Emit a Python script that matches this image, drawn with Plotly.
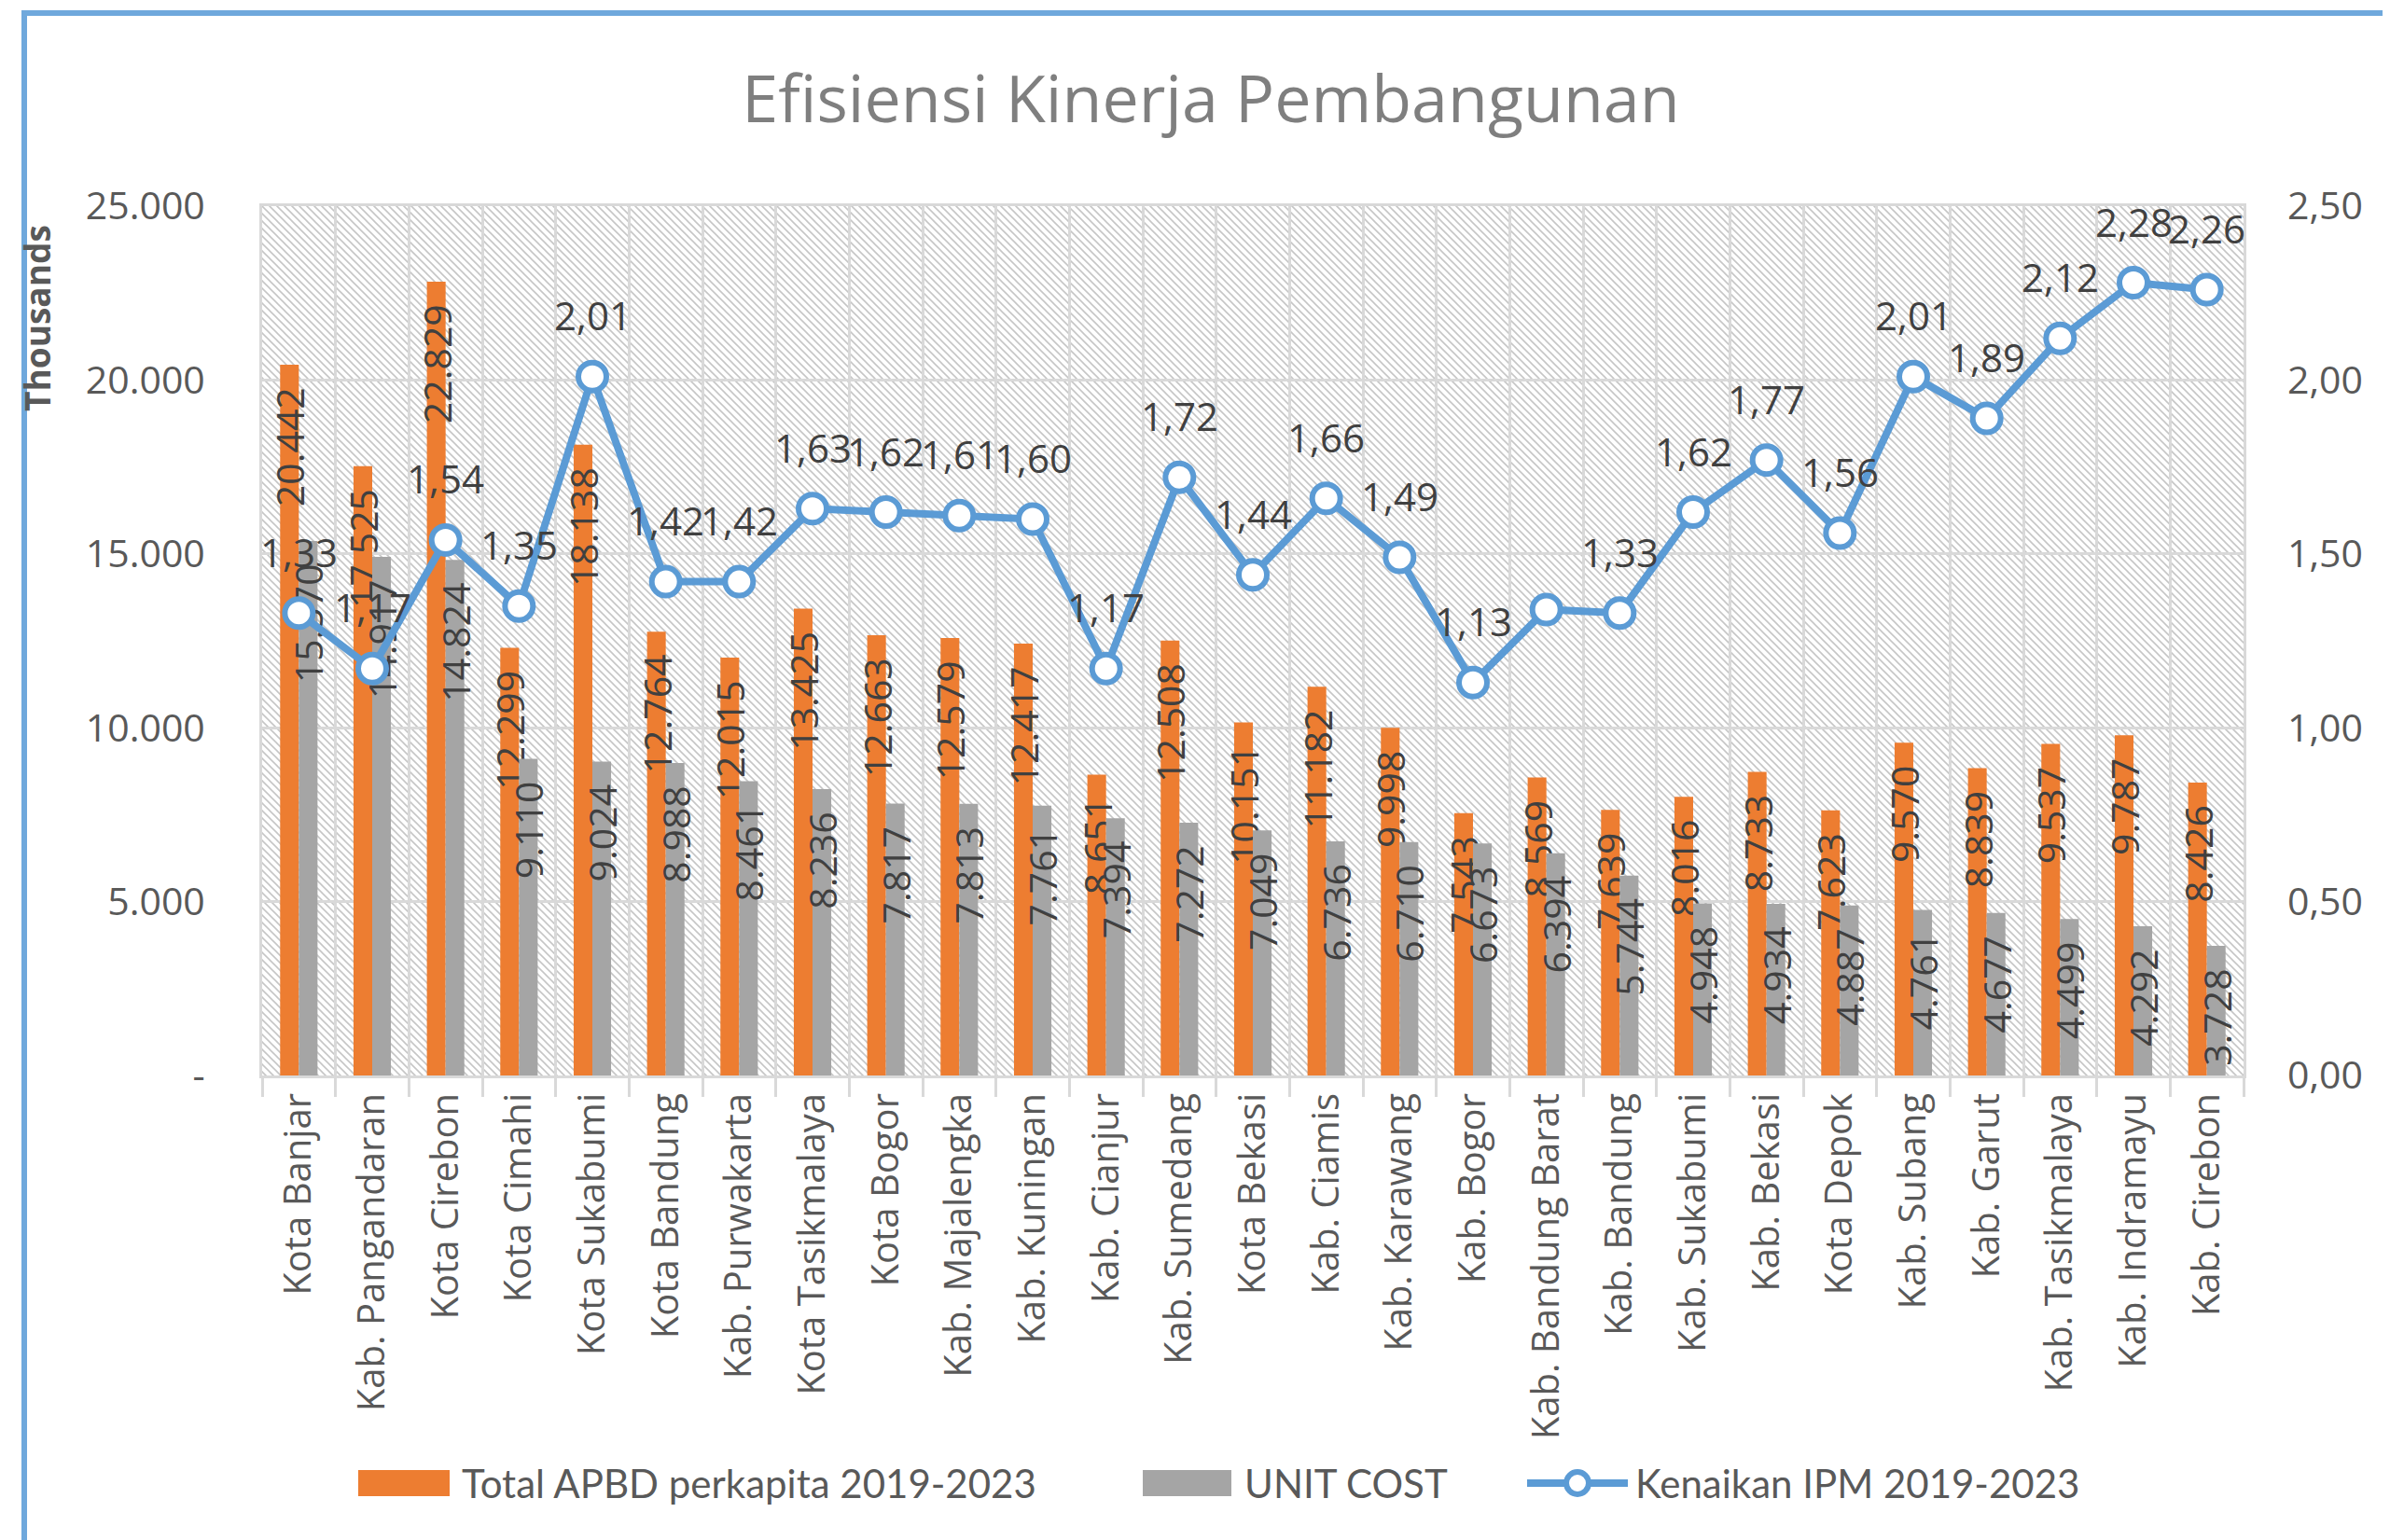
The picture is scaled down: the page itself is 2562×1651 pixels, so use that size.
import base64
import plotly.graph_objects as go

# ---------------- data ----------------
categories = [
    "Kota Banjar", "Kab. Pangandaran", "Kota Cirebon", "Kota Cimahi", "Kota Sukabumi",
    "Kota Bandung", "Kab. Purwakarta", "Kota Tasikmalaya", "Kota Bogor", "Kab. Majalengka",
    "Kab. Kuningan", "Kab. Cianjur", "Kab. Sumedang", "Kota Bekasi", "Kab. Ciamis",
    "Kab. Karawang", "Kab. Bogor", "Kab. Bandung Barat", "Kab. Bandung", "Kab. Sukabumi",
    "Kab. Bekasi", "Kota Depok", "Kab. Subang", "Kab. Garut", "Kab. Tasikmalaya",
    "Kab. Indramayu", "Kab. Cirebon",
]
apbd_perkapita = [
    20442, 17525, 22829, 12299, 18138, 12764, 12015, 13425, 12663, 12579,
    12417, 8651, 12508, 10151, 11182, 9998, 7543, 8569, 7639, 8016,
    8733, 7623, 9570, 8839, 9537, 9787, 8426,
]
unit_cost = [
    15370, 14917, 14824, 9110, 9024, 8988, 8461, 8236, 7817, 7813,
    7761, 7394, 7272, 7049, 6736, 6710, 6673, 6394, 5744, 4948,
    4934, 4887, 4761, 4677, 4499, 4292, 3728,
]
kenaikan_ipm = [
    1.33, 1.17, 1.54, 1.35, 2.01, 1.42, 1.42, 1.63, 1.62, 1.61,
    1.60, 1.17, 1.72, 1.44, 1.66, 1.49, 1.13, 1.34, 1.33, 1.62,
    1.77, 1.56, 2.01, 1.89, 2.12, 2.28, 2.26,
]
ipm_labels_hidden = ["Kab. Bandung Barat"]

left_tick_vals = [0, 5000, 10000, 15000, 20000, 25000]
left_tick_text = ["-", "5.000", "10.000", "15.000", "20.000", "25.000"]
right_tick_vals = [0, 0.5, 1.0, 1.5, 2.0, 2.5]
right_tick_text = ["0,00", "0,50", "1,00", "1,50", "2,00", "2,50"]

series_names = ["Total APBD perkapita 2019-2023", "UNIT COST", "Kenaikan IPM 2019-2023"]
title_text = "Efisiensi Kinerja Pembangunan"
unit_label = "Thousands"

# ---------------- layout geometry ----------------
W, H = 2562, 1651
L, R, T, B = 273, 165, 213, 506
PW, PH = W - L - R, H - T - B

def px_x(px):
    return (px - L) / PW

def px_y(py):
    return (H - B - py) / PH

FONT = "Open Sans, DejaVu Sans, sans-serif"
LEG_FONT = "Lato, Open Sans, sans-serif"
GRID = "#d9d9d9"
ORANGE = "#ED7D31"
GRAY = "#A5A5A5"
BLUE = "#5B9BD5"
TXT = "#595959"
LBL = "#404040"

# hatched plot background (light diagonal pattern)
svg = (
    f'<svg xmlns="http://www.w3.org/2000/svg" width="{PW}" height="{PH}">'
    '<defs><pattern id="p" width="8" height="8" patternUnits="userSpaceOnUse">'
    '<path d="M-2,-2 L10,10 M-2,6 L2,10 M6,-2 L10,2" stroke="#c6c6c6" stroke-width="1.6"/>'
    '</pattern></defs>'
    '<rect width="100%" height="100%" fill="#ffffff"/>'
    '<rect width="100%" height="100%" fill="url(#p)"/></svg>'
)
svg_uri = "data:image/svg+xml;base64," + base64.b64encode(svg.encode()).decode()

fig = go.Figure()

bar_font = dict(family=FONT, size=41, color=LBL)
NB = "\u00a0\u00a0"
fig.add_trace(go.Bar(
    x=categories, y=apbd_perkapita, name=series_names[0], showlegend=False,
    marker=dict(color=ORANGE, line=dict(width=0)),
    texttemplate="%{y:,.0f}" + NB, textposition="inside", insidetextanchor="end",
    textangle=-90, constraintext="none", insidetextfont=bar_font,
    cliponaxis=False,
))
fig.add_trace(go.Bar(
    x=categories, y=unit_cost, name=series_names[1], showlegend=False,
    marker=dict(color=GRAY, line=dict(width=0)),
    texttemplate="%{y:,.0f}" + NB, textposition="inside", insidetextanchor="end",
    textangle=-90, constraintext="none", insidetextfont=bar_font,
    cliponaxis=False,
))
fig.add_trace(go.Scatter(
    x=categories, y=kenaikan_ipm, name=series_names[2], yaxis="y2", showlegend=False,
    mode="lines+markers",
    line=dict(color=BLUE, width=8),
    marker=dict(symbol="circle", size=30, color="white", line=dict(color=BLUE, width=6)),
    cliponaxis=False,
))

annotations = []
for cat, v in zip(categories, kenaikan_ipm):
    if cat in ipm_labels_hidden:
        continue
    annotations.append(dict(
        x=cat, y=v, xref="x", yref="y2", text=f"{v:.2f}".replace(".", ","),
        showarrow=False, yshift=66, xanchor="center", yanchor="middle",
        font=dict(family=FONT, size=42, color=LBL),
    ))
annotations.append(dict(
    x=px_x(31), y=px_y(333), xref="paper", yref="paper", text=f"<b>{unit_label}</b>",
    textangle=-90, showarrow=False, xanchor="center", yanchor="middle",
    font=dict(family=FONT, size=37, color=TXT),
))

# custom legend (large swatches like the original)
LEG_Y = 1582
leg_font = dict(family=LEG_FONT, size=42, color=TXT)
shapes = [
    dict(type="rect", xref="paper", yref="paper",
         x0=px_x(18), x1=px_x(2558), y0=px_y(1700), y1=px_y(6),
         line=dict(color="#6fa8dc", width=6), fillcolor="rgba(0,0,0,0)", layer="below"),
    dict(type="rect", xref="paper", yref="paper",
         x0=px_x(376), x1=px_x(474), y0=px_y(LEG_Y + 14), y1=px_y(LEG_Y - 14),
         line=dict(width=0), fillcolor=ORANGE),
    dict(type="rect", xref="paper", yref="paper",
         x0=px_x(1217), x1=px_x(1312), y0=px_y(LEG_Y + 14), y1=px_y(LEG_Y - 14),
         line=dict(width=0), fillcolor=GRAY),
    dict(type="line", xref="paper", yref="paper",
         x0=px_x(1629), x1=px_x(1737), y0=px_y(LEG_Y), y1=px_y(LEG_Y),
         line=dict(color=BLUE, width=8)),
    dict(type="circle", xref="paper", yref="paper",
         x0=px_x(1683 - 12), x1=px_x(1683 + 12), y0=px_y(LEG_Y + 12), y1=px_y(LEG_Y - 12),
         line=dict(color=BLUE, width=6), fillcolor="white"),
]
for name, xpx in zip(series_names, [485, 1324, 1743]):
    annotations.append(dict(
        x=px_x(xpx), y=px_y(LEG_Y), xref="paper", yref="paper", text=name,
        showarrow=False, xanchor="left", yanchor="middle", font=leg_font,
    ))

fig.update_layout(
    width=W, height=H, autosize=False,
    margin=dict(l=L, r=R, t=T, b=B, pad=0),
    paper_bgcolor="white", plot_bgcolor="rgba(0,0,0,0)",
    separators=",.",
    barmode="group", bargap=0.49, bargroupgap=0.0,
    showlegend=False,
    title=dict(text=title_text, x=1290 / W, xref="container", xanchor="center",
               y=1 - 98 / H, yref="container", yanchor="middle",
               font=dict(family=FONT, size=70, color="#7f7f7f")),
    xaxis=dict(
        type="category", range=[-0.5, len(categories) - 0.5],
        tickangle=-90, tickson="boundaries", ticks="outside", ticklen=20,
        tickcolor=GRID, tickwidth=3,
        showgrid=True, gridcolor=GRID, gridwidth=3,
        showline=True, linecolor=GRID, linewidth=3, mirror=True,
        tickfont=dict(family=FONT, size=40, color=TXT),
    ),
    yaxis=dict(
        range=[0, 25000], tickvals=left_tick_vals, ticktext=left_tick_text,
        showgrid=True, gridcolor=GRID, gridwidth=3, zeroline=False,
        showline=True, linecolor=GRID, linewidth=3, mirror=True,
        ticks="", ticklabelstandoff=50,
        tickfont=dict(family=FONT, size=41, color=TXT),
    ),
    yaxis2=dict(
        overlaying="y", side="right", range=[0, 2.5],
        tickvals=right_tick_vals, ticktext=right_tick_text,
        showgrid=False, zeroline=False, showline=False, ticks="",
        ticklabelstandoff=46,
        tickfont=dict(family=FONT, size=41, color=TXT),
    ),
    annotations=annotations,
    shapes=shapes,
    images=[dict(source=svg_uri, xref="paper", yref="paper", x=0, y=1, sizex=1, sizey=1,
                 xanchor="left", yanchor="top", sizing="stretch", layer="below")],
)

fig.write_html("out.html")
